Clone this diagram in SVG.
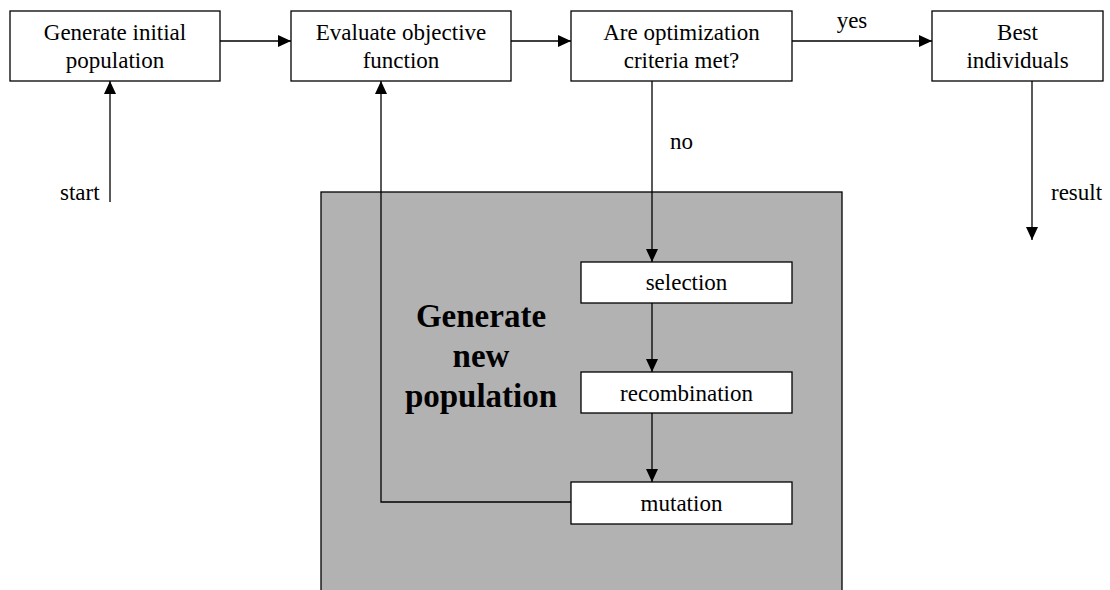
<svg xmlns="http://www.w3.org/2000/svg" width="1110" height="590" viewBox="0 0 1110 590">
<style>
.box{fill:#fff;stroke:#000;stroke-width:1.3}
.t{font-family:"Liberation Serif","Times New Roman",serif;font-size:23px;fill:#000;text-anchor:middle}
.tl{font-family:"Liberation Serif","Times New Roman",serif;font-size:23px;fill:#000}
.big{font-family:"Liberation Serif","Times New Roman",serif;font-size:33px;font-weight:bold;fill:#000;text-anchor:middle}
.c{fill:none;stroke:#000;stroke-width:1.3}
</style>
<defs>
<marker id="ah" markerUnits="userSpaceOnUse" markerWidth="13" markerHeight="12" refX="13" refY="6" orient="auto">
<path d="M0,0 L13,6 L0,12 z" fill="#000"/>
</marker>
</defs>
<rect fill="#fff" width="1110" height="590"/>
<g id="area">
<rect x="321" y="192" width="521" height="410" fill="#b2b2b2" stroke="#000" stroke-width="1.3"/>
<text class="big" x="481" y="327">Generate</text>
<text class="big" x="481" y="367">new</text>
<text class="big" x="481" y="407">population</text>
</g>
<g id="n1"><rect class="box" x="10" y="11" width="210" height="70"/><text class="t" x="115" y="40">Generate initial</text><text class="t" x="115" y="68">population</text></g>
<g id="n2"><rect class="box" x="291" y="11" width="220" height="70"/><text class="t" x="401" y="40">Evaluate objective</text><text class="t" x="401" y="68">function</text></g>
<g id="n3"><rect class="box" x="571" y="11" width="221" height="70"/><text class="t" x="681.5" y="40">Are optimization</text><text class="t" x="681.5" y="68">criteria met?</text></g>
<g id="n4"><rect class="box" x="932" y="11" width="171" height="70"/><text class="t" x="1017.5" y="40">Best</text><text class="t" x="1017.5" y="68">individuals</text></g>
<g id="n5"><rect class="box" x="581" y="262" width="211" height="41"/><text class="t" x="686.5" y="290">selection</text></g>
<g id="n6"><rect class="box" x="581" y="372" width="211" height="41"/><text class="t" x="686.5" y="401">recombination</text></g>
<g id="n7"><rect class="box" x="571" y="482" width="221" height="42"/><text class="t" x="681.5" y="511">mutation</text></g>
<g id="connectors">
<path class="c" d="M110,202 V81" marker-end="url(#ah)"/>
<path class="c" d="M220,41 H291" marker-end="url(#ah)"/>
<path class="c" d="M511,41 H571" marker-end="url(#ah)"/>
<path class="c" d="M792,41 H932" marker-end="url(#ah)"/>
<path class="c" d="M1032,81 V240" marker-end="url(#ah)"/>
<path class="c" d="M652,81 V262" marker-end="url(#ah)"/>
<path class="c" d="M652,303 V372" marker-end="url(#ah)"/>
<path class="c" d="M652,413 V482" marker-end="url(#ah)"/>
<path class="c" d="M571,502 H381 V81" marker-end="url(#ah)"/>
</g>
<g id="labels">
<text class="tl" x="60" y="200">start</text>
<text class="t" x="852" y="28">yes</text>
<text class="tl" x="670" y="149">no</text>
<text class="tl" x="1051" y="200">result</text>
</g>
</svg>
